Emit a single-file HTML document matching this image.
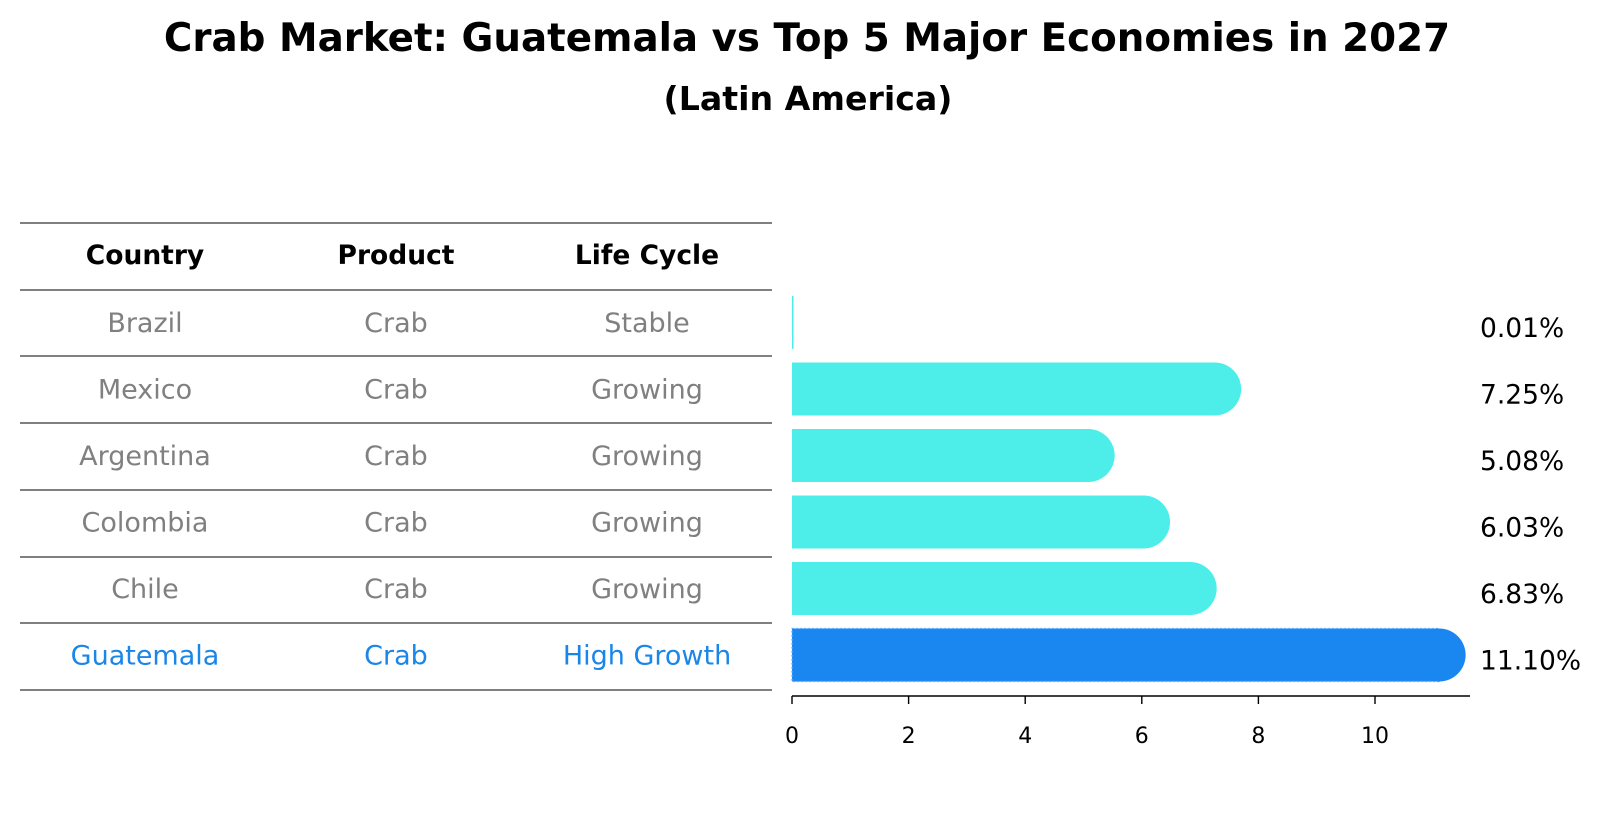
<!DOCTYPE html>
<html><head><meta charset="utf-8"><style>
body{margin:0;background:#fff;}
svg{display:block;font-family:"Liberation Sans","DejaVu Sans",sans-serif;}
</style></head><body>
<svg id="chart" width="1604" height="823" viewBox="0 0 1604 823">
<text x="807" y="51" text-anchor="middle" font-size="38.8" font-weight="bold" font-family="DejaVu Sans, sans-serif">Crab Market: Guatemala vs Top 5 Major Economies in 2027</text>
<text x="808" y="110" text-anchor="middle" font-size="33.2" font-weight="bold" font-family="DejaVu Sans, sans-serif">(Latin America)</text>
<g id="table"></g>
<g id="bars"></g>
</svg>
<script>
const countries=["Brazil","Mexico","Argentina","Colombia","Chile","Guatemala"];
const products=["Crab","Crab","Crab","Crab","Crab","Crab"];
const lifecycles=["Stable","Growing","Growing","Growing","Growing","High Growth"];
const values=[0.01,7.25,5.08,6.03,6.83,11.10];
const valueLabels=["0.01%","7.25%","5.08%","6.03%","6.83%","11.10%"];
const ticks=[0,2,4,6,8,10];
const NS="http://www.w3.org/2000/svg";
function mk(tag,attrs,parent){const e=document.createElementNS(NS,tag);for(const k in attrs)e.setAttribute(k,attrs[k]);parent.appendChild(e);return e;}
const x0=792,ppu=58.3;
const xs=v=>x0+v*ppu;
const rowY=i=>322.5+i*66.5;
const table=document.getElementById('table');
const bars=document.getElementById('bars');
const font='font-family:"DejaVu Sans",sans-serif';
const cols=[145,396,647];
["Country","Product","Life Cycle"].forEach((h,j)=>{const t=mk('text',{x:cols[j],y:264,'text-anchor':'middle','font-size':26.5,'font-weight':'bold',style:font},table);t.textContent=h;

});
const lines=[223,290,356,423,490,557,623,690];
lines.forEach(y=>{const l=mk('line',{x1:20,x2:772,y1:y,y2:y,stroke:'#000','stroke-width':1},table);

});
countries.forEach((c,i)=>{
 const y=rowY(i)+9.5;const hi=i===countries.length-1;const col=hi?'#1a86e8':'#808080';
 [c,products[i],lifecycles[i]].forEach((v,j)=>{const t=mk('text',{x:cols[j],y:y,'text-anchor':'middle','font-size':27,fill:col,style:font},table);t.textContent=v;
 
 });
 const x1=xs(values[i]);const fill=hi?'#1a86f0':'#4deeea';const h=53;
 const r=mk('rect',{x:x0,y:rowY(i)-h/2,width:Math.max(x1-x0,1.5),height:h,fill:fill},bars);
 if(hi){r.setAttribute('stroke','#5cb0ff');r.setAttribute('stroke-width','1.2');r.setAttribute('stroke-dasharray','2 2');}
 
 
 if(values[i]>0.5){const cc=mk('circle',{cx:x1,cy:rowY(i),r:h/2,fill:fill},bars);
 
 }
 const t=mk('text',{x:1480,y:rowY(i)+14.5,'font-size':26.5,style:font},bars);t.textContent=valueLabels[i];
 
 
});
const ax=mk('line',{x1:x0,x2:1470,y1:696,y2:696,stroke:'#000','stroke-width':1.4},bars);


ticks.forEach(v=>{const l=mk('line',{x1:xs(v),x2:xs(v),y1:696,y2:704,stroke:'#000','stroke-width':1.4},bars);


const t=mk('text',{x:xs(v),y:743,'text-anchor':'middle','font-size':22,style:font},bars);t.textContent=v;

});
</script>
</body></html>
